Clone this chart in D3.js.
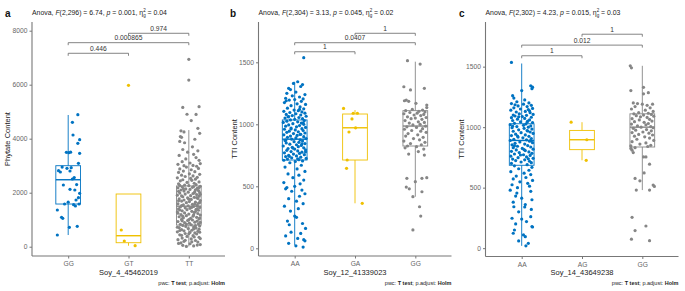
<!DOCTYPE html>
<html>
<head>
<meta charset="utf-8">
<script src="https://cdn.jsdelivr.net/npm/d3@7"></script>
<style>
  body { margin: 0; background: #fff; }
  svg { display: block; }
</style>
</head>
<body>
<div id="chart"></div>
<script>
// colours (jco palette)
const colors = ["#0073C2", "#EFC000", "#868686"];

// panel a
const catsA = ["GG", "GT", "TT"];
const ticksA = [0, 2000, 4000, 6000, 8000];
// [lower whisker, q1, median, q3, upper whisker]
const boxA = [[433, 1581, 2480, 3000, 4878], [37, 148, 407, 1952, 600], [10, 800, 1500, 2250, 4320]];
const ptsA_GG = [[.16,4889],[.07,4607],[.08,4137],[.19,3963],[.16,3830],[-.03,3496],[.01,3481],[.19,3459],[.04,3500],
  [.17,3089],[-.16,2815],[-.13,2767],[-.02,2904],[.05,2926],[.03,2804],[.07,2507],[-.08,2285],[.03,2126],[.11,2100],
  [.19,1978],[.17,1815],[.13,1730],[-.06,1581],[.09,1556],[.12,1507],[.18,1581],[-.18,1359],[-.11,1089],[-.09,1052],
  [.02,719],[.15,756],[-.18,433],[.1,2560],[-.1,2950],[.14,2300],[.0,1650]];
const ptsA_GT = [[-.12,618],[-.07,211],[.11,37],[.0,5977]];
const ptsA_TT = [[.0,6940],[.0,6170],[.17,5185],[-.1,5160],[-.03,4905],[.12,4900],[.04,4670],[.15,4385],[-.13,4290],[-.08,4250],[.18,4200],
  [-.14,4080],[-.12,4050],[.1,3980],[-.15,3900],[-.07,3850],[.06,3700],[-.1,3600],[.15,3550],[-.02,3500],
  [.08,3420],[-.16,3380],[.12,3300],[-.05,3250],[.17,3200],[-.11,3150],[.02,3100],[.19,3080],[-.18,3050],[.07,3010],[-.08,3000],
  [.13,2980],[-.04,2950],[.16,2900],[-.15,2880],[.04,2850],[-.09,2800],[.1,2780],[-.17,2750],[.01,2700],[.18,2680],[-.12,2650],
  [.07,2620],[-.06,2600],[.14,2570],[-.19,2550],[.03,2530],[.11,2500],[-.1,2480],
  [.05,2460],[-.14,2440],[.17,2400],[-.03,2380],[.09,2350],[-.17,2330],[.12,2300],[-.07,2280],[.0,2260],[.19,2240],[-.11,2220],
  [.06,2200],[-.18,2180],[.14,2160],[-.05,2140],[.02,2120],[-.13,2100],[.16,2080],[-.08,2060],[.1,2040],[-.01,2020],[.18,2000],
  [-.15,1985],[.07,1970],[-.06,1950],[.13,1930],[-.19,1910],[.03,1890],[.17,1870],[-.1,1850],[.09,1830],[-.02,1810],[.15,1790],
  [-.16,1770],[.04,1750],[-.08,1730],[.19,1710],[-.12,1690],[.01,1670],[.11,1650],[-.04,1630],[.16,1610],[-.18,1590],[.06,1570],
  [-.09,1550],[.14,1530],[-.01,1510],[.08,1490],[-.14,1470],
  [.18,1455],[-.06,1440],[.02,1420],[-.17,1400],[.12,1385],[-.03,1370],[.16,1350],[-.11,1330],[.05,1310],[-.19,1290],[.09,1270],
  [-.07,1250],[.15,1230],[.0,1210],[-.13,1190],[.19,1170],[-.04,1150],[.07,1130],[-.16,1110],[.13,1090],[-.09,1070],[.03,1050],
  [.17,1030],[-.12,1010],
  [.06,990],[-.02,970],[.14,950],[-.18,930],[.1,910],[-.07,890],[.01,870],[.16,850],[-.14,830],[.04,810],[-.1,790],[.18,770],
  [-.05,750],[.08,730],[-.16,710],[.12,690],[-.01,670],[.17,650],[-.12,630],[.05,610],[-.08,590],[.15,570],[-.19,550],[.02,530],[.1,510],
  [-.06,490],[.13,470],[-.15,440],[.07,410],[-.03,380],[.17,350],[-.11,320],[.04,290],[-.18,260],[.11,230],[-.08,200],[.15,170],
  [-.13,140],[.02,110],[.19,80],[-.1,50],[.08,30],[-.04,10],
  [-.15,2270],[.08,2230],[.17,2190],[-.09,2150],[.11,2110],[-.17,2050],[.09,1995],[.19,1940],[-.12,1880],[.13,1820],[.0,1760],
  [-.17,1700],[.18,1640],[.1,1580],[-.12,1520],[.05,1460],[.14,1410],[-.15,1360],[.11,1300],[-.18,1240],[.08,1180],[-.1,1120],
  [.18,1060],[.0,1000],[-.11,960],[.19,900],[-.04,840],[.11,780],[-.19,720],[.08,660],[-.15,600],[.18,540],[.0,480],[-.12,420],
  [.09,360],[.19,300],[-.06,240],[.05,180],[-.17,120],[.14,60]];
const bracketsA = [["GG", "GT", "0.446", 7163], ["GG", "TT", "0.000865", 7556], ["GT", "TT", "0.974", 7904]];

// panel b
const catsB = ["AA", "GA", "GG"];
const ticksB = [0, 500, 1000, 1500];
const boxB = [[27, 712, 880, 1035, 1343], [363, 712, 972, 1083, 1115], [416, 825, 986, 1110, 1505]];
const ptsB_AA = [[.15,1537],[.05,1343],[-.02,1330],[.13,1320],[.1,1305],[-.1,1290],[-.07,1280],
  [.02,1260],[-.13,1250],[.17,1240],[-.04,1230],[.08,1220],[-.15,1210],[.14,1205],[.0,1200],
  [-.09,1195],[.11,1185],[-.17,1175],[.04,1165],[.18,1160],[-.06,1150],[.09,1140],[-.12,1130],[.15,1125],[-.01,1115],[.06,1110],[-.18,1105],[.12,1100],
  [-.08,1095],[.17,1090],[.02,1085],[-.14,1080],[.1,1075],[-.04,1070],[.19,1065],[-.11,1060],[.07,1055],[-.16,1050],[.13,1045],[.0,1040],
  [-.07,1035],[.16,1030],[-.13,1025],[.05,1020],[-.19,1015],[.11,1010],[-.03,1005],[.15,1000],
  [-.1,995],[.08,990],[-.15,985],[.03,980],[.18,975],[-.06,970],[.12,965],[-.17,960],[.01,955],[.14,950],[-.09,945],[.06,940],
  [-.13,935],[.17,930],[-.02,925],[.1,920],[-.18,915],[.04,910],[-.07,905],[.15,900],
  [-.12,895],[.02,890],[.19,885],[-.05,880],[.09,875],[-.16,870],[.13,865],[-.01,860],[.07,855],[-.14,850],[.17,845],[-.08,840],
  [.03,835],[.11,830],[-.19,825],[.06,820],[-.04,815],[.15,810],[-.11,805],[.0,800],
  [.18,795],[-.13,790],[.05,785],[-.06,780],[.12,775],[-.17,770],[.08,765],[-.02,760],[.16,755],[-.1,750],[.03,745],[-.15,740],
  [.1,735],[-.05,730],[.19,725],[-.12,720],[.07,715],[-.18,710],[.13,705],[.01,700],
  [-.08,690],[.11,670],[-.16,655],[.04,640],[.17,620],[-.11,600],[.07,590],[-.03,570],[.15,550],[-.18,530],[.09,520],[.0,500],
  [-.13,490],[-.15,480],[.12,470],[-.05,460],[.17,440],[.08,420],[-.1,400],[.03,380],[.14,360],[-.17,340],[.06,320],[-.07,300],
  [.0,260],[.03,250],[-.12,220],[.13,200],[-.09,190],[.18,160],[-.06,130],[.1,120],[-.15,100],[.05,80],[.15,70],[.17,60],
  [-.1,40],[.02,20],[.14,10],
  [-.14,1190],[.08,1120],[-.1,1062],[.14,1012],[-.06,962],[.09,918],[-.15,872],[.12,842],[-.03,808],[.18,778],[-.09,742],[.05,722]];
const ptsB_GA = [[-.19,1128],[-.03,1089],[.04,1089],[-.05,1043],[-.1,938],[.01,972],[-.13,712],[-.14,645],[.12,363]];
const ptsB_GG = [[-.13,1513],[.08,1486],[-.19,1303],[-.08,1277],[.15,1290],
  [-.18,1190],[-.15,1195],[-.11,1185],[.01,1169],[.19,1155],[.19,1135],[-.05,1120],[.12,1115],[-.16,1110],[.06,1105],[.16,1100],
  [-.09,1095],[.03,1090],[-.19,1085],[.14,1080],[-.02,1075],[.09,1070],[-.13,1060],[.18,1055],[.0,1050],[-.07,1045],[.11,1040],
  [-.17,1030],[.05,1020],[.15,1015],[-.1,1010],[.08,1000],[-.04,995],[.17,985],[-.14,980],[.02,975],[.12,965],[-.18,960],
  [-.06,950],[.09,945],[.18,935],[-.12,925],[.04,915],[-.16,905],[.13,895],[-.03,885],[.07,875],[-.19,865],[.16,855],[-.08,845],
  [.1,835],[-.13,825],[.02,820],[-.17,810],[.14,800],[.05,780],[.15,752],[-.11,760],
  [-.14,564],[.0,537],[.11,564],[.19,570],[-.15,494],[-.1,480],[-.04,416],[.11,456],[.07,335],[.09,260],[-.04,148]];
const bracketsB = [["AA", "GA", "1", 1585], ["AA", "GG", "0.0407", 1658], ["GA", "GG", "1", 1734]];

// panel c
const catsC = ["AA", "AG", "GG"];
const ticksC = [0, 500, 1000, 1500];
const boxC = [[19, 685, 890, 1028, 1526], [726, 814, 896, 973, 1041], [480, 836, 1000, 1110, 1507]];
const ptsC_AA = [[-.17,1535],[.15,1342],[.18,1330],[.17,1318],[.0,1302],[-.15,1260],[-.13,1240],[.05,1225],[-.08,1210],[.12,1200],
  [-.17,1195],[.03,1190],[.16,1180],[-.06,1175],[.09,1170],[-.13,1160],[.18,1155],[-.02,1150],[.11,1145],[-.18,1140],[.06,1130],
  [-.09,1125],[.14,1120],[-.04,1110],[.19,1105],[-.14,1100],
  [.08,1098],[-.11,1092],[.01,1088],[.16,1082],[-.17,1078],[.05,1072],[-.07,1066],[.13,1060],[-.15,1055],[.1,1050],[-.02,1044],
  [.18,1038],[-.12,1032],[.07,1026],[-.19,1020],[.03,1015],[.15,1010],[-.08,1005],[.11,1000],
  [-.16,995],[.04,990],[.17,984],[-.05,978],[.09,972],[-.14,966],[.14,960],[-.01,954],[.19,948],[-.1,942],[.06,936],[-.17,930],
  [.12,924],[-.06,918],[.02,912],[.16,906],[-.13,900],
  [.08,895],[-.19,890],[.13,884],[-.03,878],[.18,872],[-.11,866],[.05,860],[-.16,854],[.1,848],[-.07,842],[.15,836],[-.14,830],
  [.01,824],[.19,818],[-.09,812],[.06,806],[-.17,800],
  [.12,795],[-.04,790],[.17,784],[-.12,778],[.03,772],[.14,766],[-.18,760],[.08,754],[-.06,748],[.19,742],[-.15,736],[.05,730],
  [-.1,724],[.13,718],[-.01,712],[.16,706],[-.17,700],
  [.09,690],[-.12,680],[.17,668],[-.05,656],[.12,644],[-.18,632],[.04,620],[.15,608],[-.09,596],[.07,584],[-.14,572],[.18,560],
  [-.03,548],[.1,536],[-.16,524],[.13,512],[-.07,500],
  [-.19,479],[.15,470],[-.08,455],[-.1,430],[.0,413],[.17,400],[-.14,380],[.06,360],[-.13,342],[.05,340],[.16,320],[-.05,300],
  [.15,260],[-.16,247],[.0,240],[.08,220],[-.1,200],[.17,178],[.18,175],[-.12,150],[-.14,123],[.03,109],[.06,95],[-.05,60],
  [.11,40],[.07,19],
  [-.11,1185],[.13,1135],[-.05,1085],[.09,1042],[-.15,1008],[.1,968],[-.07,926],[.15,888],[-.12,846],[.04,814],[-.02,770],[.11,738]];
const ptsC_AG = [[-.18,1041],[.08,896],[.07,726]];
const ptsC_GG = [[-.2,1507],[-.18,1490],[-.19,1302],[.02,1329],[.02,1275],[.1,1285],
  [-.15,1200],[-.08,1195],[.0,1190],[.17,1190],[.08,1180],[-.12,1170],[.13,1160],[-.18,1150],[.05,1140],[.18,1130],[-.06,1120],
  [.1,1115],[-.14,1110],[.15,1105],[.02,1100],[-.1,1095],[.19,1090],[-.03,1085],[.08,1080],[-.17,1070],[.12,1065],[-.05,1060],
  [.16,1050],[-.13,1045],[.03,1040],[.1,1030],[-.18,1025],[.06,1020],[-.08,1010],[.14,1005],[-.02,1000],[.18,995],[-.15,990],
  [.07,980],[-.11,975],[.15,970],[.01,960],[-.17,955],[.11,950],[-.06,940],[.17,935],[-.13,925],[.04,920],[.12,910],[-.09,900],
  [.19,890],[-.17,880],[.06,870],[-.04,860],[.14,850],[-.19,845],[.09,840],[-.12,830],[-.19,824],[-.17,810],[-.15,790],
  [.02,754],[.06,754],[.12,694],[.03,622],[-.12,576],[-.04,556],[.18,521],[.2,510],[-.1,480],[.12,480],
  [-.17,255],[.06,183],[-.12,145],[-.18,74],[.12,62]];
const bracketsC = [["AA", "AG", "1", 1590], ["AA", "GG", "0.012", 1678], ["AG", "GG", "1", 1768]];

// anova subtitles
const anovaDf = ["2,296", "2,304", "2,302"];
const anovaF = ["6.74", "3.13", "4.23"];
const anovaP = ["0.001", "0.045", "0.015"];
const anovaEta = ["0.04", "0.02", "0.03"];
const panelLetters = ["a", "b", "c"];
const xTitles = ["Soy_4_45462019", "Soy_12_41339023", "Soy_14_43649238"];
const yTitles = ["Phytate Content", "TTI Content", "TTI Content"];

const font = "'Liberation Sans', Arial, sans-serif";
const W = 685, H = 291;

const svg = d3.select("#chart").append("svg")
  .attr("width", W).attr("height", H)
  .style("font-family", font);

const panels = [
  {left: 32, yDomain: [-344, 8322], bottom: 256, cats: catsA, ticks: ticksA, box: boxA,
   pts: [ptsA_GG, ptsA_GT, ptsA_TT], brackets: bracketsA, letterX: 5},
  {left: 258.5, yDomain: [-62, 1825], bottom: 256, cats: catsB, ticks: ticksB, box: boxB,
   pts: [ptsB_AA, ptsB_GA, ptsB_GG], brackets: bracketsB, letterX: 230},
  {left: 485.5, yDomain: [-69, 1869], bottom: 256.5, cats: catsC, ticks: ticksC, box: boxC,
   pts: [ptsC_AA, ptsC_AG, ptsC_GG], brackets: bracketsC, letterX: 459}
];

const plotW = 193, plotTop = 22;
const boxWidth = 0.41;

panels.forEach((p, i) => {
  const g = svg.append("g");

  const x = d3.scalePoint().domain(p.cats).range([p.left, p.left + plotW]).padding(0.6);
  const step = x.step();
  const y = d3.scaleLinear().domain(p.yDomain).range([p.bottom, plotTop]);

  // axes
  const yAxis = g.append("g")
    .attr("transform", `translate(${p.left},0)`)
    .call(d3.axisLeft(y).tickValues(p.ticks).tickSize(2.5).tickPadding(2).tickFormat(d3.format("d")));
  const xAxis = g.append("g")
    .attr("transform", `translate(0,${p.bottom})`)
    .call(d3.axisBottom(x).tickSize(2.5).tickPadding(3));
  [xAxis, yAxis].forEach(a => {
    a.select(".domain").remove();
    a.selectAll(".tick line").attr("stroke", "#555").attr("stroke-width", 0.8);
    a.selectAll(".tick text").attr("fill", "#666").attr("font-size", 6.7).attr("font-family", font);
  });
  g.append("line").attr("x1", p.left).attr("x2", p.left).attr("y1", plotTop).attr("y2", p.bottom)
    .attr("stroke", "#777").attr("stroke-width", 1.1);
  g.append("line").attr("x1", p.left).attr("x2", p.left + plotW).attr("y1", p.bottom).attr("y2", p.bottom)
    .attr("stroke", "#777").attr("stroke-width", 1.1);

  // boxes
  p.cats.forEach((c, j) => {
    const [lo, q1, med, q3, hi] = p.box[j];
    const cx = x(c), bw = boxWidth * step, col = colors[j];
    const bg = g.append("g").attr("stroke", col).attr("stroke-width", 0.9).attr("fill", "none");
    if (hi > q3) bg.append("line").attr("x1", cx).attr("x2", cx).attr("y1", y(q3)).attr("y2", y(hi));
    if (lo < q1) bg.append("line").attr("x1", cx).attr("x2", cx).attr("y1", y(q1)).attr("y2", y(lo));
    bg.append("rect").attr("x", cx - bw / 2).attr("width", bw)
      .attr("y", y(q3)).attr("height", y(q1) - y(q3)).attr("fill", "#fff");
    bg.append("line").attr("x1", cx - bw / 2).attr("x2", cx + bw / 2)
      .attr("y1", y(med)).attr("y2", y(med)).attr("stroke-width", 1.4);
  });

  // jitter points
  p.cats.forEach((c, j) => {
    g.append("g").selectAll("circle").data(p.pts[j]).join("circle")
      .attr("cx", d => x(c) + d[0] * step)
      .attr("cy", d => y(d[1]))
      .attr("r", 1.6)
      .attr("fill", colors[j]);
  });

  // brackets
  p.brackets.forEach(b => {
    const x1 = x(b[0]), x2 = x(b[1]), yy = y(b[3]);
    g.append("path")
      .attr("d", `M${x1},${yy + 2.5}V${yy}H${x2}V${yy + 2.5}`)
      .attr("fill", "none").attr("stroke", "#666").attr("stroke-width", 0.8);
    g.append("text").attr("x", (x1 + x2) / 2).attr("y", yy - 2.5)
      .attr("text-anchor", "middle").attr("font-size", 6.7).attr("fill", "#333")
      .text(b[2]);
  });

  // axis titles
  g.append("text").attr("x", p.left + plotW / 2).attr("y", 274.5)
    .attr("text-anchor", "middle").attr("font-size", 7.5).attr("fill", "#222")
    .text(xTitles[i]);
  g.append("text")
    .attr("transform", `translate(${p.left - 22},${(plotTop + p.bottom) / 2}) rotate(-90)`)
    .attr("text-anchor", "middle").attr("font-size", 7.5).attr("fill", "#222")
    .text(yTitles[i]);

  // pwc caption
  const cap = g.append("text").attr("x", p.left + plotW).attr("y", 284.5)
    .attr("text-anchor", "end").attr("font-size", 5.5).attr("fill", "#222");
  cap.append("tspan").text("pwc: ");
  cap.append("tspan").attr("font-weight", "bold").text("T test");
  cap.append("tspan").text("; p.adjust: ");
  cap.append("tspan").attr("font-weight", "bold").text("Holm");

  // subtitle
  const st = g.append("text").attr("x", p.left).attr("y", 15).attr("font-size", 6.9).attr("fill", "#222");
  st.append("tspan").text("Anova, ");
  st.append("tspan").attr("font-style", "italic").text("F");
  st.append("tspan").text(`(${anovaDf[i]}) = ${anovaF[i]}, `);
  st.append("tspan").attr("font-style", "italic").text("p");
  st.append("tspan").text(` = ${anovaP[i]}, η`);
  st.append("tspan").attr("font-size", 4.5).attr("dy", -2.7).text("2");
  st.append("tspan").attr("font-size", 4.5).attr("dx", -2.5).attr("dy", 5).text("g");
  st.append("tspan").attr("dy", -2.3).text(` = ${anovaEta[i]}`);

  // panel letter
  g.append("text").attr("x", p.letterX).attr("y", 16.5)
    .attr("font-size", 10).attr("font-weight", "bold").attr("fill", "#111")
    .text(panelLetters[i]);
});
</script>
</body>
</html>
